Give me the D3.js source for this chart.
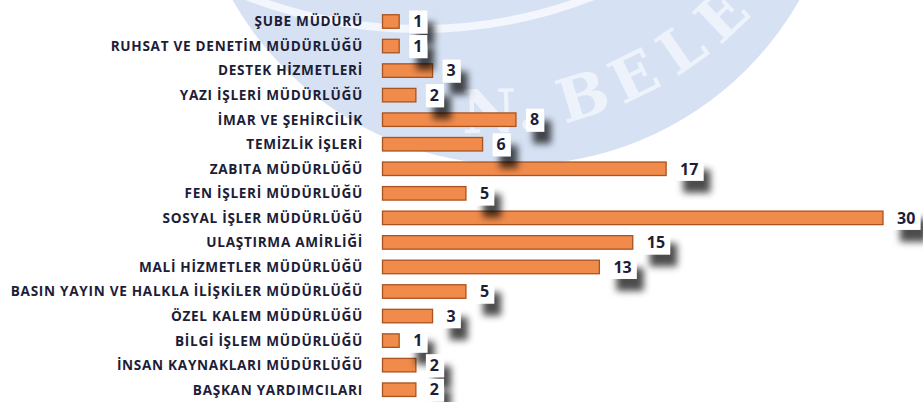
<!DOCTYPE html>
<html>
<head>
<meta charset="utf-8">
<script src="https://cdn.jsdelivr.net/npm/d3@7"></script>
<style>
  html, body { margin: 0; padding: 0; background: #ffffff; }
  svg { display: block; }
</style>
</head>
<body>
<svg id="chart" width="923" height="402"></svg>
<script>
const categories = [
  "ŞUBE MÜDÜRÜ",
  "RUHSAT VE DENETİM MÜDÜRLÜĞÜ",
  "DESTEK HİZMETLERİ",
  "YAZI İŞLERİ MÜDÜRLÜĞÜ",
  "İMAR VE ŞEHİRCİLİK",
  "TEMİZLİK İŞLERİ",
  "ZABITA MÜDÜRLÜĞÜ",
  "FEN İŞLERİ MÜDÜRLÜĞÜ",
  "SOSYAL İŞLER MÜDÜRLÜĞÜ",
  "ULAŞTIRMA AMİRLİĞİ",
  "MALİ HİZMETLER MÜDÜRLÜĞÜ",
  "BASIN YAYIN VE HALKLA İLİŞKİLER MÜDÜRLÜĞÜ",
  "ÖZEL KALEM MÜDÜRLÜĞÜ",
  "BİLGİ İŞLEM MÜDÜRLÜĞÜ",
  "İNSAN KAYNAKLARI MÜDÜRLÜĞÜ",
  "BAŞKAN YARDIMCILARI"
];
const values = [1, 1, 3, 2, 8, 6, 17, 5, 30, 15, 13, 5, 3, 1, 2, 2];
const watermarkLetters = ["N", ".", "B", "E", "L", "E"];
const watermarkAngles = [1.5, 7.5, 17, 26, 35, 43.5];

const svg = d3.select("#chart");
const defs = svg.append("defs");

const shadow = defs.append("filter").attr("id", "lblShadow")
  .attr("x", "-50%").attr("y", "-50%").attr("width", "250%").attr("height", "250%");
shadow.append("feDropShadow")
  .attr("dx", 7).attr("dy", 12).attr("stdDeviation", 3.5)
  .attr("flood-color", "#000").attr("flood-opacity", 0.7);

// Watermark logo (decorative, faded)
const wm = svg.append("g").attr("class", "watermark");
wm.append("circle").attr("cx", 516).attr("cy", -161).attr("r", 326).attr("fill", "#d6e2f4");
wm.append("circle").attr("cx", 420).attr("cy", -446).attr("r", 475)
  .attr("fill", "none").attr("stroke", "#f3f6fc").attr("stroke-width", 8);
const wcx = 480, wcy = -240, wr = 351;
wm.selectAll("text")
  .data(watermarkLetters)
  .join("text")
  .attr("transform", (d, i) => {
    const a = watermarkAngles[i] * Math.PI / 180;
    const px = wcx + wr * Math.sin(a), py = wcy + wr * Math.cos(a);
    return `translate(${px},${py}) rotate(${-watermarkAngles[i]})`;
  })
  .attr("text-anchor", "middle")
  .attr("dy", "0.36em")
  .attr("font-family", "'DejaVu Serif', 'Liberation Serif', serif")
  .attr("font-weight", "bold")
  .attr("font-size", 60)
  .attr("fill", "#eef3fb")
  .text(d => d);

const x = d3.scaleLinear().domain([0, 30]).range([382.5, 883]);
const y = d3.scaleBand().domain(categories).range([3.7, 407.5]).padding(0.45);

const font = "'Open Sans', 'DejaVu Sans', sans-serif";

// Category labels
svg.append("g").selectAll("text")
  .data(categories)
  .join("text")
  .attr("x", 363)
  .attr("y", d => y(d) + y.bandwidth() / 2)
  .attr("dy", "0.36em")
  .attr("text-anchor", "end")
  .attr("font-family", font)
  .attr("font-weight", "bold")
  .attr("font-size", 13.6)
  .attr("letter-spacing", 0.7)
  .attr("fill", "#1d1d38")
  .text(d => d);

// Bars
svg.append("g").selectAll("rect")
  .data(values)
  .join("rect")
  .attr("x", x(0))
  .attr("y", (d, i) => y(categories[i]))
  .attr("width", d => x(d) - x(0))
  .attr("height", y.bandwidth())
  .attr("fill", "#f08b4b")
  .attr("stroke", "#a9531f")
  .attr("stroke-width", 1.3);

// Value labels with shadowed boxes
const lbl = svg.append("g").selectAll("g")
  .data(values)
  .join("g");
lbl.append("rect").attr("class", "box");
lbl.append("text")
  .attr("x", d => x(d) + 14)
  .attr("y", (d, i) => y(categories[i]) + y.bandwidth() / 2)
  .attr("dy", "0.36em")
  .attr("font-family", font)
  .attr("font-weight", "bold")
  .attr("font-size", 16)
  .attr("fill", "#1d1d38")
  .text(d => d);
lbl.each(function(d, i) {
  const g = d3.select(this);
  const t = g.select("text").node();
  const w = t.getComputedTextLength();
  const cyv = y(categories[i]) + y.bandwidth() / 2;
  g.select("rect.box")
    .attr("x", x(d) + 10)
    .attr("y", cyv - 11)
    .attr("width", w + 9)
    .attr("height", 23)
    .attr("fill", "#ffffff")
    .attr("filter", "url(#lblShadow)");
});
</script>
</body>
</html>
